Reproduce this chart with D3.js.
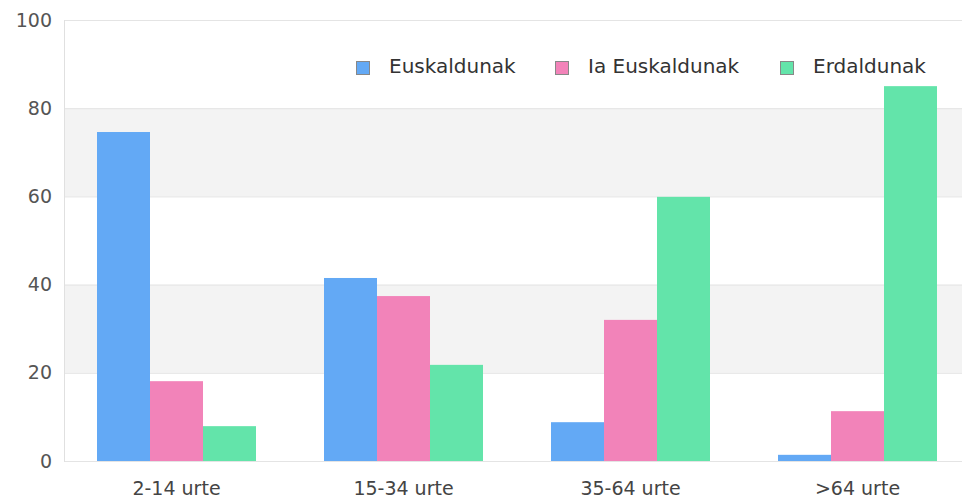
<!DOCTYPE html>
<html>
<head>
<meta charset="utf-8">
<script src="https://cdn.jsdelivr.net/npm/d3@7"></script>
<style>
  body { margin: 0; background: #fff; }
  svg { display: block; font-family: "DejaVu Sans", sans-serif; }
</style>
</head>
<body>
<svg id="chart" width="962" height="498"></svg>
<script>
var categories = ['2-14 urte', '15-34 urte', '35-64 urte', '>64 urte'];
var seriesNames = ['Euskaldunak', 'Ia Euskaldunak', 'Erdaldunak'];
var euskaldunak = [74.6, 41.5, 8.8, 1.4];
var iaEuskaldunak = [18.1, 37.4, 32.0, 11.3];
var erdaldunak = [7.9, 21.8, 59.9, 85.0];
var yTicks = [0, 20, 40, 60, 80, 100];
var colors = ['#63a9f5', '#f283b9', '#63e4aa'];

var values = [euskaldunak, iaEuskaldunak, erdaldunak];

var svg = d3.select('#chart');
var plotLeft = 64, plotTop = 20, plotBottom = 461;
var plotRight = 971;

var x = d3.scaleBand().domain(categories).range([plotLeft - 1, plotRight]).paddingInner(0).paddingOuter(0);
var y = d3.scaleLinear().domain([0, 100]).range([plotBottom, plotTop]);
var x1 = d3.scaleBand().domain(d3.range(seriesNames.length))
	.range([34, x.bandwidth() - 34]).paddingInner(0).paddingOuter(0);

// alternating bands
var bands = [];
for (var i = 0; i < yTicks.length - 1; i++) {
	if (i % 2 == 1) bands.push([yTicks[i], yTicks[i + 1]]);
}
svg.append('g').selectAll('rect').data(bands).enter().append('rect')
	.attr('x', plotLeft)
	.attr('y', function(d){ return y(d[1]); })
	.attr('width', 962 - plotLeft)
	.attr('height', function(d){ return y(d[0]) - y(d[1]); })
	.attr('fill', '#f3f3f3');

// grid lines
svg.append('g').selectAll('line').data(yTicks).enter().append('line')
	.attr('x1', plotLeft).attr('x2', 962)
	.attr('y1', function(d){ return y(d) + 0.5; })
	.attr('y2', function(d){ return y(d) + 0.5; })
	.attr('stroke', '#e4e4e4');

svg.append('line')
	.attr('x1', plotLeft + 0.5).attr('x2', plotLeft + 0.5)
	.attr('y1', plotTop).attr('y2', plotBottom + 1)
	.attr('stroke', '#e0e0e0');

// bars
var groups = svg.append('g').selectAll('g').data(categories).enter().append('g')
	.attr('transform', function(d){ return 'translate(' + x(d) + ',0)'; });

groups.selectAll('rect').data(function(d, ci){
		return values.map(function(v, si){ return {s: si, v: v[ci]}; });
	}).enter().append('rect')
	.attr('x', function(d){ return x1(d.s); })
	.attr('y', function(d){ return y(d.v); })
	.attr('width', x1.bandwidth())
	.attr('height', function(d){ return y(0) - y(d.v); })
	.attr('fill', function(d){ return colors[d.s]; });

// y axis labels
var yAxis = d3.axisLeft(y).tickValues(yTicks).tickSize(0).tickPadding(12);
var yg = svg.append('g').attr('transform', 'translate(' + plotLeft + ',0)').call(yAxis);
yg.select('.domain').remove();
yg.selectAll('text').attr('font-size', 19).attr('fill', '#555').attr('font-family', '"DejaVu Sans", sans-serif');

// x axis labels
var xAxis = d3.axisBottom(x).tickSize(0).tickPadding(21);
var xg = svg.append('g').attr('transform', 'translate(0,' + plotBottom + ')').call(xAxis);
xg.select('.domain').remove();
xg.selectAll('text').attr('font-size', 19).attr('fill', '#444').attr('font-family', '"DejaVu Sans", sans-serif');

// legend
var legendX = [356, 555, 780];
var legend = svg.append('g').selectAll('g').data(seriesNames).enter().append('g')
	.attr('transform', function(d, i){ return 'translate(' + legendX[i] + ',61)'; });
legend.append('rect')
	.attr('x', 0.5).attr('y', 0.5).attr('width', 13).attr('height', 13)
	.attr('fill', function(d, i){ return colors[i]; })
	.attr('stroke', '#888').attr('stroke-width', 1);
legend.append('text')
	.attr('x', 33).attr('y', 12)
	.attr('font-size', 20).attr('fill', '#333')
	.text(function(d){ return d; });
</script>
</body>
</html>
